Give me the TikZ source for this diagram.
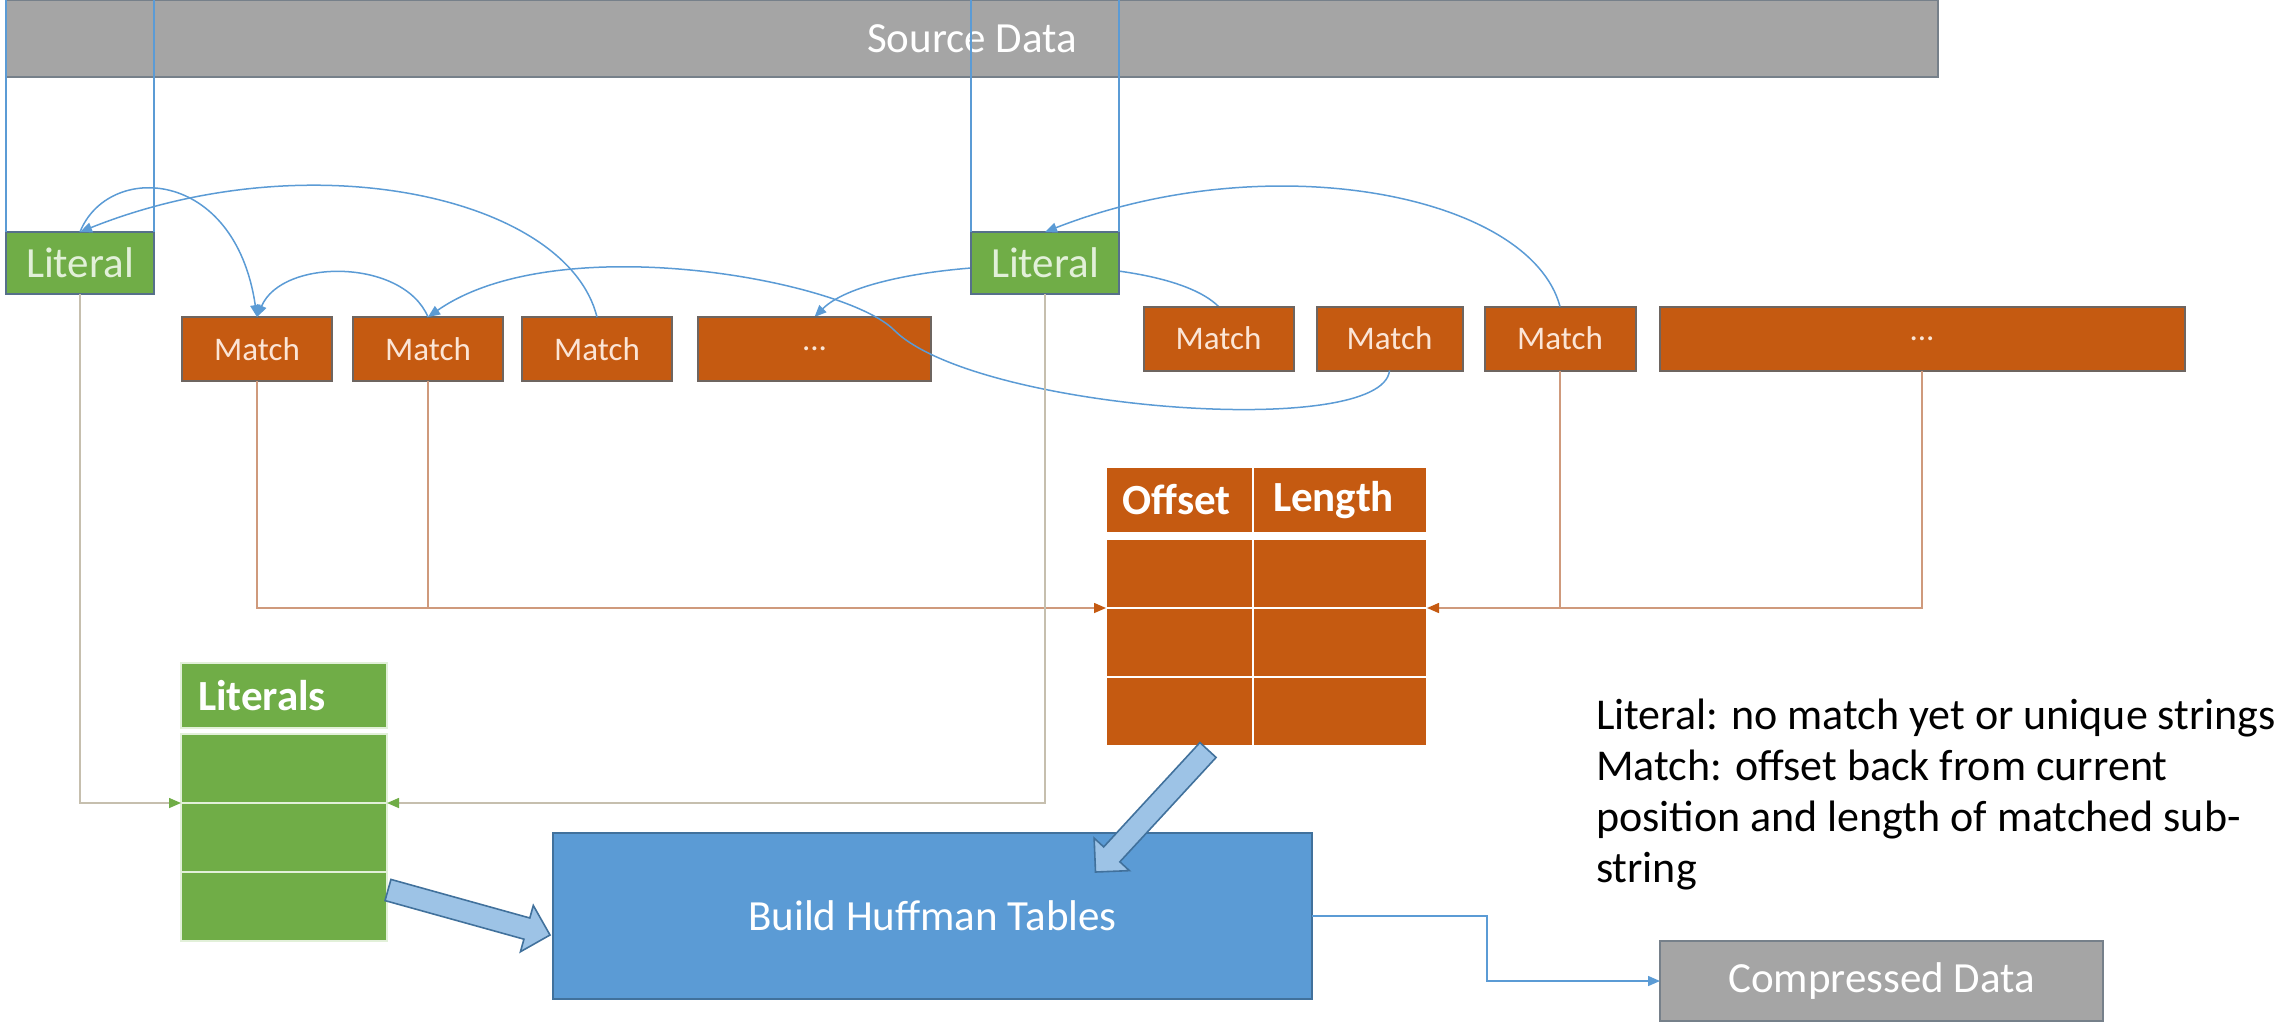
\documentclass[tikz,border=0pt]{standalone}
\usepackage{fontspec}
\setmainfont{Carlito}
\usetikzlibrary{arrows.meta,calc,backgrounds,positioning}

\definecolor{srcgray}{HTML}{A5A5A5}
\definecolor{grayborder}{HTML}{76808A}
\definecolor{litgreen}{HTML}{70AD47}
\definecolor{litborder}{HTML}{56708A}
\definecolor{littext}{HTML}{E2F0D9}
\definecolor{matchorange}{HTML}{C55A11}
\definecolor{matchborder}{HTML}{6E6560}
\definecolor{matchtext}{HTML}{FBE5D6}
\definecolor{huffblue}{HTML}{5B9BD5}
\definecolor{huffborder}{HTML}{41719C}
\definecolor{arrowfill}{HTML}{9DC3E6}
\definecolor{linkblue}{HTML}{5B9BD5}
\definecolor{brownline}{HTML}{CF9A7C}
\definecolor{tanline}{HTML}{C6BFAE}

% thick outlined arrow from #1 to #2
\newcommand{\blockarrow}[2]{%
  \coordinate (hb) at ($(#2)!12pt!(#1)$);
  \draw[fatarrow] ($(#1)!5.5pt!90:(#2)$) -- ($(hb)!5.5pt!90:(#2)$) -- ($(hb)!12pt!90:(#2)$)
    -- (#2) -- ($(hb)!12pt!-90:(#2)$) -- ($(hb)!5.5pt!-90:(#2)$) -- ($(#1)!5.5pt!-90:(#2)$) -- cycle;}

\begin{document}
\begin{tikzpicture}[x=0.5pt,y=-0.5pt,>={Triangle[length=6pt,width=5pt]},
    every node/.style={inner sep=0pt,outer sep=0pt},
    bigtxt/.style={font=\fontsize{21.5}{26}\selectfont},
    smalltxt/.style={font=\fontsize{16.5}{20}\selectfont},
    graybox/.style={draw=grayborder,line width=1pt,fill=srcgray,text=white,bigtxt},
    litbox/.style={draw=litborder,line width=1pt,fill=litgreen,text=littext,bigtxt,
      minimum width=74pt,minimum height=31pt},
    matchbox/.style={draw=matchborder,line width=1pt,fill=matchorange,text=matchtext,smalltxt,
      minimum width=75pt,minimum height=32pt},
    ocell/.style={draw=white,line width=1pt,fill=matchorange,text=white,
      font=\fontsize{21.5}{26}\selectfont\bfseries,minimum height=34.5pt},
    lcell/.style={draw=littext,line width=1pt,fill=litgreen,text=white,
      font=\fontsize{21.5}{26}\selectfont\bfseries,minimum height=34.5pt,minimum width=103pt},
    link/.style={draw=linkblue,line width=0.75pt},
    brownarr/.style={draw=brownline,line width=0.75pt,-{Triangle[length=6pt,width=5pt,color=matchorange]}},
    tanarr/.style={draw=tanline,line width=0.75pt,-{Triangle[length=6pt,width=5pt,color=litgreen]}},
    fatarrow/.style={draw=huffborder,line width=0.8pt,fill=arrowfill}]
  \useasboundingbox (0,0) rectangle (2280,1023);

  \node[graybox,minimum width=966pt,minimum height=38.5pt] (src) at (972,38.5) {Source Data};

  \node[litbox] (lit1) at (80,263) {Literal};
  \node[litbox] (lit2) at (1045,263) {Literal};

  \node[matchbox] (m1) at (257,349) {Match};
  \node[matchbox] (m2) [right=10.5pt of m1] {Match};
  \node[matchbox] (m3) [right=9.5pt of m2] {Match};
  \node[matchbox,minimum width=116.5pt] (d1) [right=13pt of m3] {...};

  \node[matchbox] (m4) at (1218.5,338.5) {Match};
  \node[matchbox,minimum width=73pt] (m5) [right=11.5pt of m4] {Match};
  \node[matchbox,minimum width=75.5pt] (m6) [right=11pt of m5] {Match};
  \node[matchbox,minimum width=262.5pt] (d2) [right=12pt of m6] {...};

  % offset / length table
  \node[ocell,minimum height=33pt,text width=57pt,inner xsep=8.25pt,align=left] (ohd1) at (1179.5,500) {Offset};
  \node[ocell,minimum height=33pt,text width=67pt,inner xsep=10pt,align=left] (ohd2) [right=0pt of ohd1] {Length};
  \node[ocell,minimum width=73.5pt] (or1) [below=3pt of ohd1] {};
  \node[ocell,minimum width=73.5pt] (or2) [below=0pt of or1] {};
  \node[ocell,minimum width=73.5pt] (or3) [below=0pt of or2] {};
  \node[ocell,minimum width=87pt] (or1b) [below=3pt of ohd2] {};
  \node[ocell,minimum width=87pt] (or2b) [below=0pt of or1b] {};
  \node[ocell,minimum width=87pt] (or3b) [below=0pt of or2b] {};

  % literals table
  \node[lcell,minimum height=32.5pt,minimum width=0pt,text width=86pt,inner xsep=8.5pt,align=left] (lhd) at (284,695.5) {Literals};
  \node[lcell] (lr1) [below=3pt of lhd] {};
  \node[lcell] (lr2) [below=0pt of lr1] {};
  \node[lcell] (lr3) [below=0pt of lr2] {};

  \node[draw=huffborder,line width=0.8pt,fill=huffblue,text=white,bigtxt,
    minimum width=379.5pt,minimum height=83pt] (huff) at (932.5,916) {Build Huffman Tables};
  \node[graybox,minimum width=221.5pt,minimum height=40pt] (comp) at (1881.5,981) {Compressed Data};

  \node[anchor=north west,align=left,font=\fontsize{22}{25.5}\selectfont] (note) at (1596,699)
    {Literal: no match yet or unique strings\\Match: offset back from current\\position and length of matched sub-\\string};

  % where the literals sit in the source
  \draw[link] (lit1.north west) -- (lit1.north west |- src.north);
  \draw[link] (lit1.north east) -- (lit1.north east |- src.north);
  \draw[link] (lit2.north west) -- (lit2.north west |- src.north);
  \draw[link] (lit2.north east) -- (lit2.north east |- src.north);

  % back references
  \coordinate (dip) at (894,330);
  \draw[link,->] (m3.north) .. controls +(-30,-120) and +(230,-92) .. (lit1.north);
  \draw[link,->] (lit1.north) .. controls +(28,-70) and +(-22,-150) .. (m1.north);
  \draw[link,->] (m2.north) .. controls +(-25,-59) and +(25,-59) .. (m1.north);
  \draw[link,->] (m5.south) .. controls +(-7,70) and +(80,80) .. (dip)
    .. controls +(-50,-50) and +(129,-90) .. (m2.north);
  \begin{scope}[on background layer]
    \draw[link,->] (m4.north) .. controls +(-60,-60) and +(60,-60) .. (d1.north);
  \end{scope}
  \draw[link,->] (m6.north) .. controls +(-30,-112) and +(225,-88) .. (lit2.north);

  % into the tables
  \draw[brownarr] (m1.south) |- (or1.south west);
  \draw[draw=brownline,line width=0.75pt] (m2.south) -- (m2.south |- or1.south west);
  \draw[brownarr] (d2.south) |- (or1b.south east);
  \draw[draw=brownline,line width=0.75pt] (m6.south) -- (m6.south |- or1b.south east);
  \draw[tanarr] (lit1.south) |- (lr1.south west);
  \draw[tanarr] (lit2.south) |- (lr1.south east);

  \draw[link,->] (huff.east) -- ++(175,0) |- (comp.west);

  \coordinate (t1) at ($(lr3.north east)+(1,18)$);
  \coordinate (h1) at ($(huff.west)+(-3,19)$);
  \blockarrow{t1}{h1}
  \coordinate (t2) at ($(or3.south east)+(-45,4)$);
  \coordinate (h2) at ($(huff.north)+(163,39)$);
  \blockarrow{t2}{h2}
\end{tikzpicture}
\end{document}
